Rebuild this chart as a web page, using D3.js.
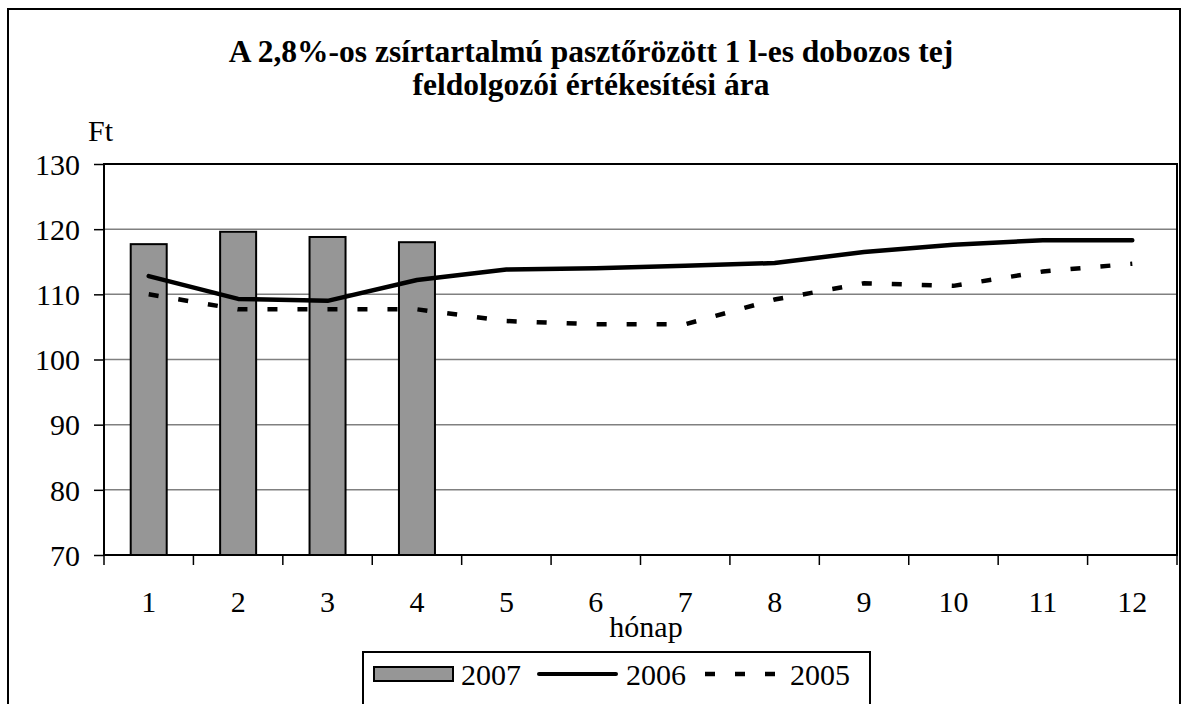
<!DOCTYPE html>
<html><head><meta charset="utf-8">
<script src="https://cdn.jsdelivr.net/npm/d3@7/dist/d3.min.js"></script>
<style>body{margin:0;background:#fff}svg{display:block}svg text{font-family:'Liberation Serif',Tinos,'Times New Roman',Times,serif !important;fill:#000}</style>
</head><body><svg id="c" width="1188" height="704"></svg>
<script>
const months = ["1","2","3","4","5","6","7","8","9","10","11","12"];
const y2007 = [117.7, 119.6, 118.8, 118.0];
const y2006 = [112.8, 109.3, 109.0, 112.2, 113.8, 114.0, 114.4, 114.8, 116.5, 117.6, 118.3, 118.3];
const y2005 = [110.0, 107.7, 107.7, 107.7, 105.9, 105.4, 105.4, 109.2, 111.7, 111.3, 113.5, 114.7];
const yTicks = [70, 80, 90, 100, 110, 120, 130];
const titleLines = ["A 2,8%-os zsírtartalmú pasztőrözött 1 l-es dobozos tej", "feldolgozói értékesítési ára"];

const svg = d3.select("#c");
const L = 104, R = 1177, T = 164, B = 555;
const x = d3.scaleBand().domain(months).range([L, R]);
const y = d3.scaleLinear().domain([70, 130]).range([B, T]);
const FS = "30px";

svg.append("rect").attr("x", 8).attr("y", 9).attr("width", 1172).attr("height", 710)
  .attr("fill", "none").attr("stroke", "#000").attr("stroke-width", 2);

svg.selectAll(".title").data(titleLines).enter().append("text")
  .attr("x", 591).attr("y", (d, i) => 62 + i * 33).attr("text-anchor", "middle")
  .style("font-size", "31.5px").style("font-weight", "bold").text(d => d);

svg.append("g").selectAll("line").data(yTicks.filter(t => t > 70 && t < 130)).enter().append("line")
  .attr("x1", L).attr("x2", R).attr("y1", d => y(d)).attr("y2", d => y(d))
  .attr("stroke", "#808080").attr("stroke-width", 1.5);

const yAxis = d3.axisLeft(y).tickValues(yTicks).tickSize(10).tickPadding(14);
const gy = svg.append("g").attr("transform", `translate(${L},0)`).call(yAxis);
gy.attr("font-family", null).attr("font-size", null);
gy.select(".domain").remove();
gy.selectAll("text").style("font-size", FS).attr("dy", "0.34em");
gy.selectAll("line").attr("stroke", "#000").attr("stroke-width", 1.5);

const boundaries = d3.range(months.length + 1).map(i => L + i * x.bandwidth());
svg.append("g").selectAll("line").data(boundaries).enter().append("line")
  .attr("x1", d => d).attr("x2", d => d).attr("y1", B).attr("y2", B + 10)
  .attr("stroke", "#000").attr("stroke-width", 1.5);
svg.append("g").selectAll("text").data(months).enter().append("text")
  .attr("x", d => x(d) + x.bandwidth() / 2).attr("y", 612).attr("text-anchor", "middle")
  .style("font-size", FS).text(d => d);

const bw = 36;
svg.append("g").selectAll("rect").data(y2007).enter().append("rect")
  .attr("x", (d, i) => x(months[i]) + x.bandwidth() / 2 - bw / 2)
  .attr("y", d => y(d)).attr("width", bw).attr("height", d => B - y(d))
  .attr("fill", "#969696").attr("stroke", "#000").attr("stroke-width", 2);

const line = d3.line().x((d, i) => x(months[i]) + x.bandwidth() / 2).y(d => y(d));
svg.append("path").datum(y2005).attr("d", line).attr("fill", "none")
  .attr("stroke", "#000").attr("stroke-width", 4.5).attr("stroke-dasharray", "10,20");
svg.append("path").datum(y2006).attr("d", line).attr("fill", "none")
  .attr("stroke", "#000").attr("stroke-width", 4.5).attr("stroke-linecap", "round").attr("stroke-linejoin", "round");

svg.append("rect").attr("x", L).attr("y", T).attr("width", R - L).attr("height", B - T)
  .attr("fill", "none").attr("stroke", "#000").attr("stroke-width", 2);

svg.append("text").attr("x", 88).attr("y", 141).style("font-size", FS).text("Ft");
svg.append("text").attr("x", 646).attr("y", 637).attr("text-anchor", "middle").style("font-size", FS).text("hónap");

const lg = svg.append("g");
lg.append("rect").attr("x", 363).attr("y", 652).attr("width", 507).attr("height", 60)
  .attr("fill", "#fff").attr("stroke", "#000").attr("stroke-width", 2);
lg.append("rect").attr("x", 374).attr("y", 667).attr("width", 79).attr("height", 14)
  .attr("fill", "#969696").attr("stroke", "#000").attr("stroke-width", 2);
lg.append("text").attr("x", 461).attr("y", 685).style("font-size", FS).text("2007");
lg.append("line").attr("x1", 539).attr("x2", 616).attr("y1", 674).attr("y2", 674)
  .attr("stroke", "#000").attr("stroke-width", 4).attr("stroke-linecap", "round");
lg.append("text").attr("x", 626).attr("y", 685).style("font-size", FS).text("2006");
lg.append("line").attr("x1", 705).attr("x2", 776).attr("y1", 674).attr("y2", 674)
  .attr("stroke", "#000").attr("stroke-width", 4.5).attr("stroke-dasharray", "10,20");
lg.append("text").attr("x", 790).attr("y", 685).style("font-size", FS).text("2005");
</script></body></html>
